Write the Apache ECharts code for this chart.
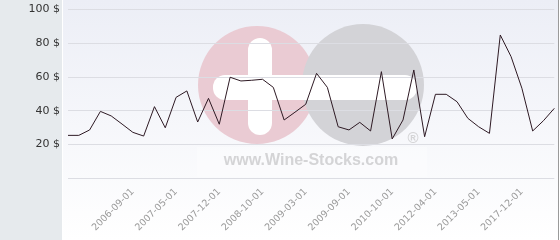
<!DOCTYPE html>
<html><head><meta charset="utf-8">
<script src="https://cdn.jsdelivr.net/npm/echarts@6/dist/echarts.min.js"></script>
<style>html,body{margin:0;padding:0;background:#fff}#c{width:560px;height:240px}</style>
</head><body><div id="c"></div>
<script>
const dates = ['2005-06-01','2005-09-01','2005-12-01','2006-02-01','2006-04-01','2006-06-01','2006-09-01','2006-11-01','2007-01-01','2007-03-01','2007-05-01','2007-07-01','2007-09-01','2007-10-01','2007-12-01','2008-02-01','2008-05-01','2008-07-01','2008-10-01','2008-11-01','2008-12-01','2009-01-01','2009-03-01','2009-04-01','2009-05-01','2009-07-01','2009-09-01','2009-12-01','2010-03-01','2010-06-01','2010-10-01','2011-01-01','2011-06-01','2011-11-01','2012-04-01','2012-07-01','2012-10-01','2013-01-01','2013-05-01','2014-06-01','2015-06-01','2016-09-01','2017-12-01','2018-06-01','2019-01-01','2019-09-01'];
const prices = [25.4,25.4,28.6,39.6,36.9,32.1,27.2,25.0,42.4,29.9,47.9,51.7,33.3,47.3,32.0,59.8,57.6,58.0,58.6,53.8,34.5,39.1,43.8,62.1,53.8,30.5,28.6,33.1,28.0,63.1,23.3,34.5,64.1,24.6,49.7,49.7,45.3,35.5,30.5,26.6,84.8,72.0,53.3,28.0,34.1,41.4];
const yTicks = [0,20,40,60,80,100];
const labelStart = 6, labelEvery = 4;

const chart = echarts.init(document.getElementById('c'), null, {renderer:'canvas'});
chart.setOption({
  animation:false,
  backgroundColor:'#ffffff',
  graphic:[
    {type:'rect', z:-20, silent:true, shape:{x:0,y:0,width:62,height:240}, style:{fill:'#e6eaed'}},
    {type:'rect', z:-20, silent:true, shape:{x:63,y:0,width:495,height:240},
      style:{fill:new echarts.graphic.LinearGradient(0,0,0,1,[{offset:0,color:'#eceef6'},{offset:1,color:'#ffffff'}])}},
    {type:'line', z:-19, silent:true, shape:{x1:558.5,y1:0,x2:558.5,y2:240}, style:{stroke:'#9a9a9a',lineWidth:1}},
    {type:'rect', z:-18, silent:true, shape:{x:197,y:147,width:230,height:30}, style:{fill:'rgba(255,255,255,0.3)'}},
    {type:'circle', z:-17, silent:true, shape:{cx:257,cy:85,r:59}, style:{fill:'#eacbd3'}},
    {type:'circle', z:-16, silent:true, shape:{cx:363,cy:85,r:61}, style:{fill:'#d3d3d7'}},
    {type:'rect', z:-15, silent:true, shape:{x:248,y:38,width:24,height:97,r:12}, style:{fill:'#ffffff'}},
    {type:'rect', z:-15, silent:true, shape:{x:213,y:75,width:204,height:25,r:12}, style:{fill:'#ffffff'}},
    {type:'text', z:-15, silent:true, x:311, y:161, style:{text:'www.Wine-Stocks.com', fill:'#d4d4d6', font:'bold 16px "Liberation Sans", Arial, sans-serif', align:'center', verticalAlign:'middle'}},
    {type:'text', z:-15, silent:true, x:413, y:139, style:{text:'®', fill:'#d4d4d6', font:'bold 15px "Liberation Sans", Arial, sans-serif', align:'center', verticalAlign:'middle'}}
  ],
  grid:{left:68, right:5.7, top:9.3, bottom:61.7, containLabel:false},
  xAxis:{
    type:'category', data:dates, boundaryGap:false,
    axisLine:{show:false}, axisTick:{show:false},
    axisLabel:{rotate:45, margin:12, color:'#9a9a9a', fontSize:9.5, fontFamily:'DejaVu Sans',
      interval:(i)=> i>=labelStart && (i-labelStart)%labelEvery===0},
    splitLine:{show:false}
  },
  yAxis:{
    type:'value', min:yTicks[0], max:yTicks[yTicks.length-1], interval:20,
    axisLine:{show:false}, axisTick:{show:false},
    axisLabel:{margin:8, color:'#333333', fontSize:11, fontFamily:'DejaVu Sans',
      formatter:(v)=> v===0 ? '' : v+' $'},
    splitLine:{show:true, lineStyle:{color:'#dcdde3', width:1}}
  },
  series:[{type:'line', data:prices, showSymbol:false, symbol:'none',
    lineStyle:{color:'#2e1a24', width:1}, z:5}]
});
</script></body></html>
